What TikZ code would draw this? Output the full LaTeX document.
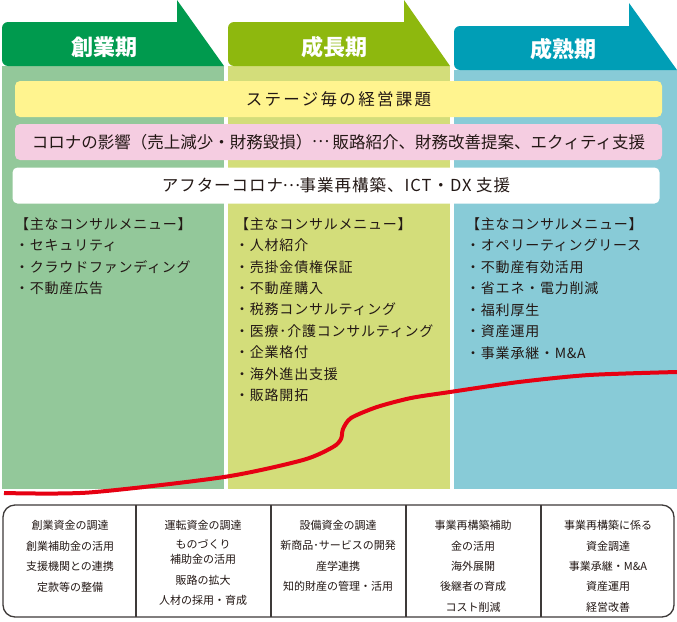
\documentclass[tikz,border=0pt]{standalone}
\usepackage{fontspec}
\setmainfont{Noto Sans CJK JP}
\newfontfamily\widejp[LetterSpace=14]{Noto Sans CJK JP}
\newfontfamily\menujp[LetterSpace=5.5]{Noto Sans CJK JP}
\newfontfamily\bthreejp[LetterSpace=6]{Noto Sans CJK JP}
\newcommand\midell{\makebox[1em][c]{\raisebox{0.32em}{…}}}
\definecolor{cAhead}{HTML}{009A4E}
\definecolor{cAbody}{HTML}{93C89A}
\definecolor{cBhead}{HTML}{8EB80E}
\definecolor{cBbody}{HTML}{D3DD7A}
\definecolor{cChead}{HTML}{009EB6}
\definecolor{cCbody}{HTML}{88CBD7}
\definecolor{bnyellow}{HTML}{FFF48F}
\definecolor{bnpink}{HTML}{F5CDE1}
\definecolor{curvered}{HTML}{E60012}
\definecolor{ink}{HTML}{231815}
\definecolor{boxline}{HTML}{3E3A39}
\tikzset{
  headtxt/.style={text=white, font=\fontsize{22}{24}\selectfont\bfseries, inner sep=0},
  banner/.style={rounded corners=5pt, minimum width=647pt, minimum height=36pt, inner sep=0, text=ink},
  menutxt/.style={anchor=west, inner sep=0, text=ink, font=\fontsize{14}{16}\menujp},
  bottxt/.style={inner sep=0, text=ink, font=\fontsize{11}{13}\selectfont},
}
\begin{document}
\begin{tikzpicture}[x=1pt,y=-1pt]
\useasboundingbox (0,0) rectangle (677,621);
\fill[white] (0,0) rectangle (677,621);
% column bodies
\fill[cAbody] (2,66) rectangle (224,489);
\fill[cBbody] (228,66) rectangle (450,489);
\fill[cCbody] (454,70) rectangle (677,489);
% headers
\fill[cAhead] (177,0) -- (224,66) [rounded corners=6pt] -- (2,66) -- (2,22) [sharp corners] -- (177,22) -- cycle;
\fill[cBhead] (404,0) -- (450,66) [rounded corners=6pt] -- (228,66) -- (228,22) [sharp corners] -- (404,22) -- cycle;
\fill[cChead] (629,3) -- (677,70) [rounded corners=6pt] -- (454,70) -- (454,26) [sharp corners] -- (629,26) -- cycle;
\node[headtxt] (h1) at (104,47) {創業期};
\node[headtxt] (h2) at (334,47) {成長期};
\node[headtxt] (h3) at (563,49) {成熟期};
% banners
\node[banner, fill=bnyellow, font=\fontsize{16.5}{18}\widejp] (b1) at (338.5,99) {ステージ毎の経営課題};
\node[banner, fill=bnpink, font=\fontsize{16.5}{18}\selectfont] (b2) at (338.5,142) {コロナの影響（売上減少・財務毀損）\midell{} 販路紹介、財務改善提案、エクィティ支援};
\node[banner, fill=white, font=\fontsize{16.5}{18}\bthreejp] (b3) at (336,185.5) {アフターコロナ\midell 事業再構築、ICT・DX 支援};
% menus
\foreach \t [count=\i] in {【主なコンサルメニュー】,・セキュリティ,・クラウドファンディング,・不動産広告}
  \node[menutxt] (ma\i) at (15,{224+21.45*(\i-1)}) {\t};
\foreach \t [count=\i] in {【主なコンサルメニュー】,・人材紹介,・売掛金債権保証,・不動産購入,・税務コンサルティング,・医療･介護コンサルティング,・企業格付,・海外進出支援,・販路開拓}
  \node[menutxt] (mb\i) at (235,{224+21.4*(\i-1)}) {\t};
\foreach \t [count=\i] in {【主なコンサルメニュー】,・オペリーティングリース,・不動産有効活用,・省エネ・電力削減,・福利厚生,・資産運用,・事業承継・M\&A}
  \node[menutxt] (mc\i) at (466,{224+21.5*(\i-1)}) {\t};
% growth curve
\draw[curvered, line width=4pt] plot[smooth, tension=0.45] coordinates {(4,493) (89,492.5) (224,477) (303,460) (333,447) (341,439) (343,429) (351,418) (377,407) (411,398) (450,392) (519,382) (589,375) (677,372)};
% bottom box
\draw[boxline, line width=1.3pt, rounded corners=12pt] (3,505) rectangle (674,617);
\coordinate (d1t) at (136,505); \coordinate (d1b) at (136,617);
\coordinate (d2t) at (271,505); \coordinate (d2b) at (271,617);
\coordinate (d3t) at (406,505); \coordinate (d3b) at (406,617);
\coordinate (d4t) at (541,505); \coordinate (d4b) at (541,617);
\draw[boxline, line width=1.3pt] (d1t) -- (d1b) (d2t) -- (d2b) (d3t) -- (d3b) (d4t) -- (d4b);
\node[bottxt] (p11) at (70,525) {創業資金の調達};
\node[bottxt] (p12) at (70,546) {創業補助金の活用};
\node[bottxt] (p13) at (70,566) {支援機関との連携};
\node[bottxt] (p14) at (70,587) {定款等の整備};
\node[bottxt] (p21) at (203,525) {運転資金の調達};
\node[bottxt] (p22) at (203,544) {ものづくり};
\node[bottxt] (p23) at (203,559) {補助金の活用};
\node[bottxt] (p24) at (203,580) {販路の拡大};
\node[bottxt] (p25) at (203,600) {人材の採用・育成};
\node[bottxt] (p31) at (338,525) {設備資金の調達};
\node[bottxt] (p32) at (338,545) {新商品･サービスの開発};
\node[bottxt] (p33) at (338,566) {産学連携};
\node[bottxt] (p34) at (338,586) {知的財産の管理・活用};
\node[bottxt] (p41) at (473,525) {事業再構築補助};
\node[bottxt] (p42) at (473,546) {金の活用};
\node[bottxt] (p43) at (473,566) {海外展開};
\node[bottxt] (p44) at (473,586) {後継者の育成};
\node[bottxt] (p45) at (473,607) {コスト削減};
\node[bottxt] (p51) at (608,525) {事業再構築に係る};
\node[bottxt] (p52) at (608,546) {資金調達};
\node[bottxt] (p53) at (608,566) {事業承継・M\&A};
\node[bottxt] (p54) at (608,586) {資産運用};
\node[bottxt] (p55) at (608,607) {経営改善};
\end{tikzpicture}
\end{document}
